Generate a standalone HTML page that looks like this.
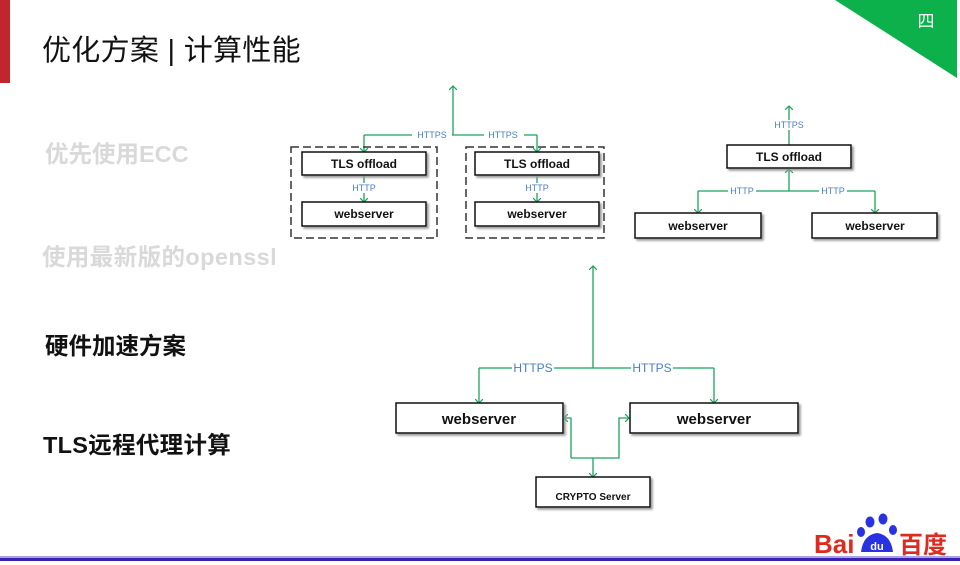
<!DOCTYPE html>
<html><head><meta charset="utf-8"><style>
html,body{margin:0;padding:0;background:#fff;}
body{width:960px;height:565px;position:relative;overflow:hidden;font-family:"Liberation Sans","Noto Sans CJK SC",sans-serif;}
.t{position:absolute;white-space:nowrap;font-weight:bold;}
</style></head><body>
<div style="position:absolute;left:0;top:0;width:10px;height:83px;background:#c0262d"></div>
<div class="t" style="left:42px;top:27px;font-size:29px;font-weight:normal;color:#111;letter-spacing:0.3px">优化方案 | 计算性能</div>
<div class="t" style="left:45px;top:135px;font-size:23.5px;color:#d9d9d9">优先使用ECC</div>
<div class="t" style="left:42px;top:238px;font-size:23.5px;color:#d9d9d9;letter-spacing:0.4px">使用最新版的openssl</div>
<div class="t" style="left:45px;top:327px;font-size:23.5px;color:#111">硬件加速方案</div>
<div class="t" style="left:43px;top:426px;font-size:23.5px;color:#111;letter-spacing:0.3px">TLS远程代理计算</div>

<svg width="960" height="565" style="position:absolute;left:0;top:0" xmlns="http://www.w3.org/2000/svg" font-family="Liberation Sans, sans-serif">
<defs>
<marker id="a" markerWidth="8" markerHeight="8" refX="4" refY="4" orient="auto" markerUnits="userSpaceOnUse"><path d="M0,0 L4,4 L0,8" fill="none" stroke="#1aa35a" stroke-width="1.2"/></marker>
<filter id="s"><feDropShadow dx="2" dy="2" stdDeviation="1" flood-color="#999"/></filter>
</defs>
<polygon points="835,0 957,0 957,78" fill="#0db14b"/>
<text x="926" y="27" fill="#fff" font-size="17" font-family="Noto Sans CJK SC, sans-serif" text-anchor="middle">四</text>

<g stroke="#1aa35a" stroke-width="1.3" fill="none">
<path d="M453,135 V86" marker-end="url(#a)"/>
<path d="M364,135 H537"/>
<path d="M364,135 V152" marker-end="url(#a)"/>
<path d="M537,135 V152" marker-end="url(#a)"/>
<path d="M364,176 V202" marker-end="url(#a)" marker-start="url(#a)"/>
<path d="M537,176 V202" marker-end="url(#a)" marker-start="url(#a)"/>
<path d="M789,145 V106" marker-end="url(#a)"/>
<path d="M789,191 V169" marker-end="url(#a)"/>
<path d="M698,191 H875"/>
<path d="M698,191 V213" marker-end="url(#a)"/>
<path d="M875,191 V213" marker-end="url(#a)"/>
<path d="M593,368 V266" marker-end="url(#a)"/>
<path d="M479,368 H714"/>
<path d="M479,368 V403" marker-end="url(#a)"/>
<path d="M714,368 V403" marker-end="url(#a)"/>
<path d="M571,458 V418 H564" marker-end="url(#a)"/>
<path d="M571,458 H619 V418 H629" marker-end="url(#a)"/>
<path d="M593,458 V477" marker-end="url(#a)"/>
</g>
<g font-size="9" fill="#4a7fc1" text-anchor="middle">
<rect x="412" y="130" width="40" height="10" fill="#fff"/><text x="432" y="138">HTTPS</text>
<rect x="484" y="130" width="40" height="10" fill="#fff"/><text x="503" y="138">HTTPS</text>
<rect x="350" y="183" width="28" height="10" fill="#fff"/><text x="364" y="191">HTTP</text>
<rect x="523" y="183" width="28" height="10" fill="#fff"/><text x="537" y="191">HTTP</text>
<rect x="772" y="120" width="36" height="10" fill="#fff"/><text x="789" y="128">HTTPS</text>
<rect x="728" y="186" width="28" height="10" fill="#fff"/><text x="742" y="194">HTTP</text>
<rect x="819" y="186" width="28" height="10" fill="#fff"/><text x="833" y="194">HTTP</text>
</g>
<g font-size="12" fill="#4a7fc1" text-anchor="middle">
<rect x="512" y="361" width="42" height="13" fill="#fff"/><text x="533" y="372">HTTPS</text>
<rect x="631" y="361" width="42" height="13" fill="#fff"/><text x="652" y="372">HTTPS</text>
</g>

<g fill="none" stroke="#333" stroke-width="1.5" stroke-dasharray="8,4">
<rect x="291" y="147" width="146" height="91"/>
<rect x="466" y="147" width="138" height="91"/>
</g>
<g fill="#fff" stroke="#111" stroke-width="1.5" filter="url(#s)">
<rect x="302" y="152" width="124" height="23"/>
<rect x="302" y="202" width="124" height="24"/>
<rect x="475" y="152" width="124" height="23"/>
<rect x="475" y="202" width="124" height="24"/>
<rect x="727" y="145" width="124" height="23"/>
<rect x="635" y="213" width="126" height="25"/>
<rect x="812" y="213" width="125" height="25"/>
<rect x="396" y="403" width="167" height="30"/>
<rect x="630" y="403" width="168" height="30"/>
<rect x="536" y="477" width="114" height="30"/>
</g>
<g font-weight="bold" fill="#111" text-anchor="middle" font-size="12">
<text x="364" y="168">TLS offload</text>
<text x="364" y="218">webserver</text>
<text x="537" y="168">TLS offload</text>
<text x="537" y="218">webserver</text>
<text x="789" y="161">TLS offload</text>
<text x="698" y="230">webserver</text>
<text x="875" y="230">webserver</text>
<text x="479" y="424" font-size="15">webserver</text>
<text x="714" y="424" font-size="15">webserver</text>
<text x="593" y="500" font-size="10">CRYPTO Server</text>
</g>

<rect x="0" y="556" width="960" height="2" fill="#a9a0e6"/>
<rect x="0" y="558" width="960" height="3" fill="#3a1fb0"/>

<text x="814" y="553" font-size="26" font-weight="bold" fill="#de2a1f">Bai</text>
<g fill="#2932e1">
<ellipse cx="870" cy="522" rx="4.5" ry="5.5"/>
<ellipse cx="883" cy="519" rx="4.5" ry="5.5"/>
<ellipse cx="861" cy="532" rx="4" ry="5"/>
<ellipse cx="893" cy="530" rx="4" ry="5"/>
<path d="M861,552 Q863,535 877,533 Q891,535 893,552 Z"/>
</g>
<text x="877" y="550" font-size="11" font-weight="bold" fill="#fff" text-anchor="middle">du</text>
<text x="899" y="553" font-size="24" font-weight="bold" fill="#de2a1f" font-family="Noto Sans CJK SC, sans-serif">百度</text>
</svg>
</body></html>
